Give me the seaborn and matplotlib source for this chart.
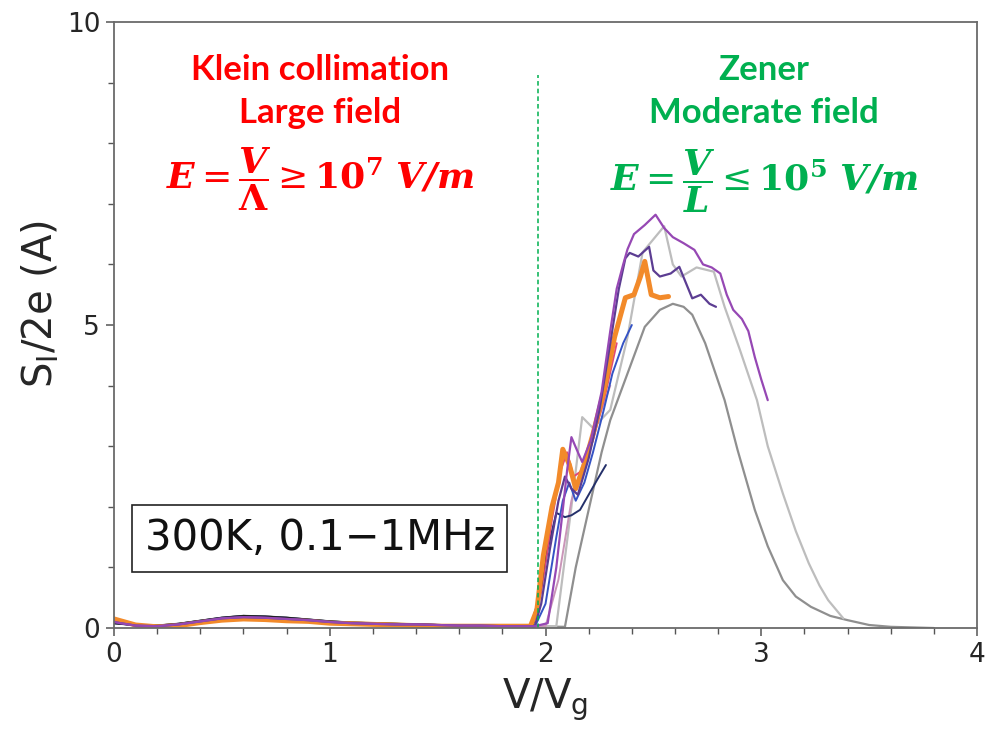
import numpy as np
import pandas as pd
import matplotlib
matplotlib.use("Agg")
import matplotlib.pyplot as plt
from matplotlib.ticker import MultipleLocator
import seaborn as sns

# ---------------- data ----------------
# low-field part shared by all traces (V/Vg < ~1.9)
low_x = [0.0, 0.03, 0.1, 0.2, 0.3, 0.4, 0.5, 0.6, 0.7, 0.8, 0.9, 1.0, 1.1, 1.2, 1.3, 1.4, 1.5, 1.6, 1.7, 1.8, 1.9]
low_y_orange = [0.15, 0.12, 0.05, 0.02, 0.04, 0.09, 0.13, 0.15, 0.14, 0.12, 0.11, 0.08, 0.07, 0.06, 0.05, 0.04, 0.03, 0.03, 0.03, 0.03, 0.03]
low_y_purple = [0.10, 0.08, 0.04, 0.03, 0.06, 0.11, 0.16, 0.18, 0.17, 0.15, 0.13, 0.10, 0.08, 0.07, 0.06, 0.06, 0.05, 0.04, 0.04, 0.03, 0.03]
low_y_grey = [0.08, 0.07, 0.05, 0.04, 0.07, 0.12, 0.17, 0.20, 0.19, 0.17, 0.14, 0.11, 0.09, 0.08, 0.07, 0.06, 0.05, 0.04, 0.04, 0.04, 0.03]

# high-field part of each trace
medgrey_x = [2.09, 2.14, 2.20, 2.26, 2.30, 2.38, 2.46, 2.53, 2.59, 2.64, 2.68, 2.74, 2.83, 2.89, 2.97, 3.03, 3.10, 3.16, 3.23, 3.32, 3.40, 3.50, 3.60, 3.80]
medgrey_y = [0.02, 1.00, 1.95, 2.90, 3.43, 4.20, 4.97, 5.25, 5.35, 5.30, 5.17, 4.70, 3.76, 2.94, 1.95, 1.35, 0.79, 0.52, 0.35, 0.20, 0.13, 0.05, 0.02, 0.00]

ltgrey_x = [2.05, 2.12, 2.17, 2.22, 2.30, 2.38, 2.45, 2.55, 2.59, 2.63, 2.70, 2.78, 2.83, 2.90, 2.98, 3.03, 3.10, 3.16, 3.22, 3.27, 3.31, 3.38]
ltgrey_y = [0.03, 2.00, 3.48, 3.30, 3.60, 4.80, 6.20, 6.63, 6.00, 5.80, 5.95, 5.88, 5.30, 4.60, 3.76, 3.00, 2.22, 1.60, 1.07, 0.70, 0.46, 0.16]

mauve_x = [2.00, 2.06, 2.12, 2.18, 2.24, 2.30]
mauve_y = [0.03, 0.80, 2.10, 2.80, 3.40, 4.00]

navy_x = [1.93, 1.97, 2.01, 2.05, 2.09, 2.12, 2.16, 2.20, 2.24, 2.28]
navy_y = [0.02, 0.50, 1.30, 1.90, 1.83, 1.86, 1.95, 2.20, 2.45, 2.69]

blue_x = [1.95, 2.00, 2.05, 2.08, 2.11, 2.14, 2.18, 2.22, 2.27, 2.31, 2.36, 2.40]
blue_y = [0.02, 0.40, 1.50, 2.10, 2.40, 2.10, 2.40, 2.90, 3.60, 4.20, 4.70, 5.00]

pink_x = [1.94, 1.98, 2.03, 2.07, 2.10, 2.13, 2.17, 2.22, 2.28, 2.33]
pink_y = [0.02, 0.60, 1.80, 2.60, 2.90, 2.50, 2.60, 3.10, 3.90, 4.70]

dkpurple_x = [1.95, 1.98, 2.02, 2.06, 2.09, 2.12, 2.15, 2.20, 2.25, 2.30, 2.34, 2.37, 2.39, 2.43, 2.48, 2.50, 2.53, 2.58, 2.62, 2.65, 2.68, 2.72, 2.76, 2.79]
dkpurple_y = [0.03, 0.40, 1.30, 2.10, 2.50, 2.30, 2.20, 2.80, 3.60, 4.70, 5.60, 6.10, 6.19, 6.13, 6.29, 5.90, 5.80, 5.85, 5.96, 5.70, 5.44, 5.50, 5.35, 5.30]

violet_x = [1.95, 2.01, 2.05, 2.08, 2.10, 2.12, 2.15, 2.17, 2.21, 2.26, 2.30, 2.33, 2.36, 2.38, 2.41, 2.46, 2.51, 2.55, 2.59, 2.64, 2.69, 2.73, 2.77, 2.81, 2.84, 2.87, 2.91, 2.94, 2.97, 3.00, 3.03]
violet_y = [0.03, 0.08, 1.00, 1.95, 2.60, 3.15, 2.90, 2.74, 3.10, 3.90, 4.90, 5.60, 6.00, 6.25, 6.50, 6.65, 6.82, 6.60, 6.45, 6.35, 6.24, 6.00, 5.95, 5.85, 5.50, 5.25, 5.10, 4.90, 4.47, 4.10, 3.76]

black_x = [1.94, 1.98, 2.02, 2.05]
black_y = [0.02, 0.70, 1.83, 2.30]

orange_x = [1.93, 1.96, 1.99, 2.03, 2.06, 2.08, 2.11, 2.14, 2.18, 2.22, 2.27, 2.32, 2.37, 2.41, 2.44, 2.46, 2.49, 2.53, 2.57]
orange_y = [0.03, 0.30, 1.20, 2.00, 2.40, 2.95, 2.70, 2.30, 2.70, 3.20, 3.90, 4.80, 5.45, 5.50, 5.80, 6.05, 5.50, 5.45, 5.47]

x_ticks = [0, 1, 2, 3, 4]
y_ticks = [0, 5, 10]
divider_x = 1.963
divider_top = 9.12

# ---------------- figure ----------------
sns.set_style("ticks")
plt.rcParams["font.family"] = ["DejaVu Sans"]
plt.rcParams["mathtext.fontset"] = "dejavuserif"

fig = plt.figure(figsize=(9.88, 7.33), dpi=100)
ax = fig.add_axes([0.1154, 0.1432, 0.8735, 0.8268])

traces = [
    ("medgrey", medgrey_x, medgrey_y, low_y_grey, "#8f8f8f", 1.6),
    ("ltgrey", ltgrey_x, ltgrey_y, low_y_grey, "#bdbdbd", 1.6),
    ("mauve", mauve_x, mauve_y, low_y_purple, "#c995b8", 1.4),
    ("navy", navy_x, navy_y, low_y_grey, "#24306a", 1.4),
    ("blue", blue_x, blue_y, low_y_purple, "#3553c4", 1.4),
    ("pink", pink_x, pink_y, low_y_orange, "#e0467a", 1.4),
    ("black", black_x, black_y, low_y_grey, "#202020", 1.4),
    ("orange", orange_x, orange_y, low_y_orange, "#f28a2a", 3.6),
    ("dkpurple", dkpurple_x, dkpurple_y, low_y_purple, "#5c3d92", 1.6),
    ("violet", violet_x, violet_y, low_y_purple, "#9648b4", 1.6),
]

for name, hx, hy, ly, col, lw in traces:
    df = pd.DataFrame({"x": list(low_x) + list(hx), "y": list(ly) + list(hy)})
    sns.lineplot(data=df, x="x", y="y", ax=ax, color=col, lw=lw,
                 sort=False, estimator=None, solid_capstyle="round")

# dashed divider
ax.plot([divider_x, divider_x], [0, divider_top], color="#00b050", lw=1.1,
        ls=(0, (3, 2)))

ax.set_xlim(0, 4)
ax.set_ylim(0, 10)
ax.set_xticks(x_ticks)
ax.set_yticks(y_ticks)
ax.xaxis.set_minor_locator(MultipleLocator(0.2))
ax.yaxis.set_minor_locator(MultipleLocator(1))
ax.tick_params(axis="both", which="major", direction="out", length=6,
               width=1.1, color="#555555", labelsize=19, pad=4)
ax.tick_params(axis="both", which="minor", direction="out", length=4,
               width=1.0, color="#555555")
for s in ax.spines.values():
    s.set_visible(True)
    s.set_color("#6a6a6a")
    s.set_linewidth(1.3)

ax.set_xlabel(r"V/V$_\mathregular{g}$", fontsize=29, labelpad=6)
ax.set_ylabel(r"S$_\mathregular{I}$/2e (A)", fontsize=29)
ax.yaxis.set_label_coords(-0.062, 0.535)

# annotations
red = "#ff0000"
green = "#00b050"
ann_font = dict(family=["Lato", "DejaVu Sans"], weight="bold", fontsize=25,
                ha="center", va="center")
ax.text(0.955, 9.20, "Klein collimation", color=red, **ann_font)
ax.text(0.955, 8.50, "Large field", color=red, **ann_font)
ax.text(3.012, 9.20, "Zener", color=green, **ann_font)
ax.text(3.012, 8.50, "Moderate field", color=green, **ann_font)

ax.text(0.955, 7.40,
        r"$\mathbfit{E} = \dfrac{\mathbfit{V}}{\mathbf{\Lambda}} \geq \mathbf{10}^{\mathbf{7}}\ \mathbfit{V/m}$",
        color=red, fontsize=26, ha="center", va="center")
ax.text(3.012, 7.37,
        r"$\mathbfit{E} = \dfrac{\mathbfit{V}}{\mathbfit{L}} \leq \mathbf{10}^{\mathbf{5}}\ \mathbfit{V/m}$",
        color=green, fontsize=26, ha="center", va="center")

ax.text(0.954, 1.485, "300K, 0.1\u22121MHz", fontsize=30, ha="center",
        va="center", color="#111111",
        bbox=dict(boxstyle="square,pad=0.3", fc="white", ec="#222222", lw=1.2))

fig.savefig("out.png", dpi=100)
